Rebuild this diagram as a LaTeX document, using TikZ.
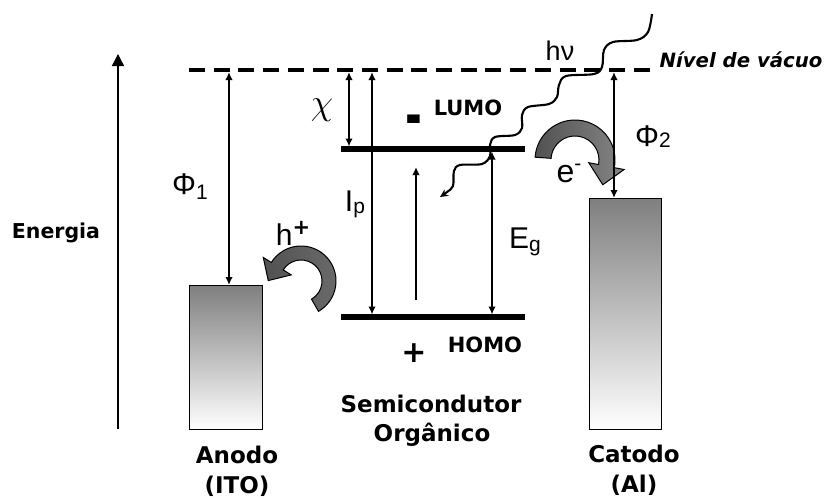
\documentclass[tikz,border=0pt]{standalone}
\usepackage{fontspec}
\setmainfont{Liberation Sans}
\newfontfamily\vfont{DejaVu Sans}
\usetikzlibrary{arrows.meta,calc}
\newcommand{\lowsub}[2]{\raisebox{#2}{\fontsize{21}{21}\selectfont #1}}
\newcommand{\hisup}[2]{\raisebox{#2}{\fontsize{21}{21}\selectfont #1}}
\begin{document}
\begin{tikzpicture}[x=1pt,y=-1pt,
  bl/.style={font=\vfont\bfseries\fontsize{21}{21}\selectfont, inner sep=0pt, anchor=base},
  bm/.style={font=\vfont\bfseries\fontsize{23}{23}\selectfont, inner sep=0pt, anchor=base},
  lab/.style={font=\fontsize{30}{30}\selectfont, inner sep=0pt},
  tipA/.tip={Latex[length=8pt,width=7.5pt]},
  dimarrow/.style={line width=2.5pt, tipA-tipA},
  uparrow/.style={line width=2.5pt, -tipA},
  level/.style={line width=5.5pt},
  vac/.style={line width=4.5pt, dash pattern=on 16pt off 8.7pt},
  metal/.style={draw=black, line width=1.4pt, top color=black!50, bottom color=white, inner sep=0pt, anchor=north west},
  fat/.style={draw=black, line width=1pt},
  photon/.style={line width=2.1pt, -{Stealth[length=8pt,width=7.5pt]}}
]
\useasboundingbox (0,0) rectangle (830,499);

% energy axis
\coordinate (eb) at (118,429);
\coordinate (et) at (118,54);
\draw[line width=1.4pt, -{Triangle[length=12pt,width=12pt]}] (eb) -- (et);
\node[bl, font=\vfont\bfseries\fontsize{20.5}{20.5}\selectfont] (energia) at (56,238) {Energia};

% electrodes
\node[metal, minimum width=73pt, minimum height=144pt] (anode) at (189,285) {};
\node[metal, minimum width=72pt, minimum height=231pt] (cathode) at (589,198) {};

% levels
\coordinate (lumoL) at (341,149); \coordinate (lumoR) at (525,149);
\coordinate (homoL) at (341,317); \coordinate (homoR) at (525,317);
\draw[level] (lumoL) -- (lumoR);
\draw[level] (homoL) -- (homoR);

% vacuum level
\coordinate (vacL) at (189,70); \coordinate (vacR) at (652,70);
\draw[vac] (vacL) -- (vacR);

% fat arrows
\coordinate (hc) at (301,281);
\draw[fat, left color=black!68, right color=black!58] ($(hc)+(60:35)$) arc[start angle=60, end angle=-148, radius=35]
  -- ($(hc)+(-148:44.5)$) -- ($(hc)+(-148:28)+(122:17)$) -- ($(hc)+(-148:11.5)$)
  -- ($(hc)+(-148:21)$) arc[start angle=-148, end angle=60, radius=21] -- cycle;
\coordinate (ec) at (575,160);
\draw[fat, left color=black!68, right color=black!48] ($(ec)+(-176:40)$) arc[start angle=-176, end angle=11, radius=40]
  -- ($(ec)+(11:50)$) -- ($(ec)+(11:32)+(101:19)$) -- ($(ec)+(11:14)$)
  -- ($(ec)+(11:24)$) arc[start angle=11, end angle=-176, radius=24] -- cycle;

% dimension arrows
\coordinate (p1t) at (229,72);
\draw[dimarrow] (p1t) -- (p1t |- anode.north);
\coordinate (chit) at (349,72); \coordinate (chib) at (349,146.5);
\draw[dimarrow] (chit) -- (chib);
\coordinate (ipt) at (372,72); \coordinate (ipb) at (372,314.5);
\draw[dimarrow] (ipt) -- (ipb);
\coordinate (egt) at (492,151.5); \coordinate (egb) at (492,314.5);
\draw[dimarrow] (egt) -- (egb);
\coordinate (p2t) at (614,72);
\draw[dimarrow] (p2t) -- (p2t |- cathode.north);
\coordinate (mb) at (416,300); \coordinate (mt) at (416,167);
\draw[uparrow] (mb) -- (mt);

% photon
\draw[photon] plot[smooth, tension=0.55] coordinates {
 (652,14) (648,32) (637,40) (613,42) (604,50) (602,67) (594,74) (566,76)
 (559,85) (557,97) (549,104) (528,107) (522,115) (522,128) (515,135) (495,137)
 (490,145) (490,156) (482,164) (460,165) (454,171) (453,186) (447,192) (440,197)};

% labels
\node[lab] (phi1) at (190,186.5) {Φ\lowsub{1}{-5pt}};
\node[lab, font=\fontsize{20}{20}\selectfont] (chi) at (322,110) {\scalebox{1.75}{$\chi$}};
\node[lab] (ip) at (355,204) {I\lowsub{p}{-2pt}};
\node[lab] (eg) at (525,242) {E\lowsub{g}{-3pt}};
\node[lab, font=\fontsize{27}{27}\selectfont] (hnu) at (560,51) {hν};
\node[lab] (phi2) at (653,136.5) {Φ\lowsub{2}{-1pt}};
\node[lab, font=\fontsize{32}{32}\selectfont] (el) at (569,173) {e\hisup{-}{12pt}};
\node[lab] (hl) at (293,233.5) {h\hisup{\vfont\bfseries +}{11pt}};

\node[bl] (lumo) at (468,115) {LUMO};
\node[bl] (homo) at (485,352) {HOMO};
\node[font=\vfont\bfseries\fontsize{30}{30}\selectfont, inner sep=0pt] (minus) at (413.5,125.5) {\scalebox{1.35}[2]{-}};
\node[font=\vfont\bfseries\fontsize{30}{30}\selectfont, inner sep=0pt] (plus) at (414,353.5) {+};
\node[bm] (semi) at (431,412) {Semicondutor};
\node[bm] (org) at (432,441) {Orgânico};
\node[bm] (anodo) at (237,463) {Anodo};
\node[bm] (ito) at (237,493) {(ITO)};
\node[bm] (catodo) at (634,462) {Catodo};
\node[bm] (al) at (634,492) {(Al)};
\node[bl, font=\vfont\bfseries\itshape\fontsize{19.7}{19.7}\selectfont] (vacuo) at (741,67) {Nível de vácuo};
\end{tikzpicture}
\end{document}
